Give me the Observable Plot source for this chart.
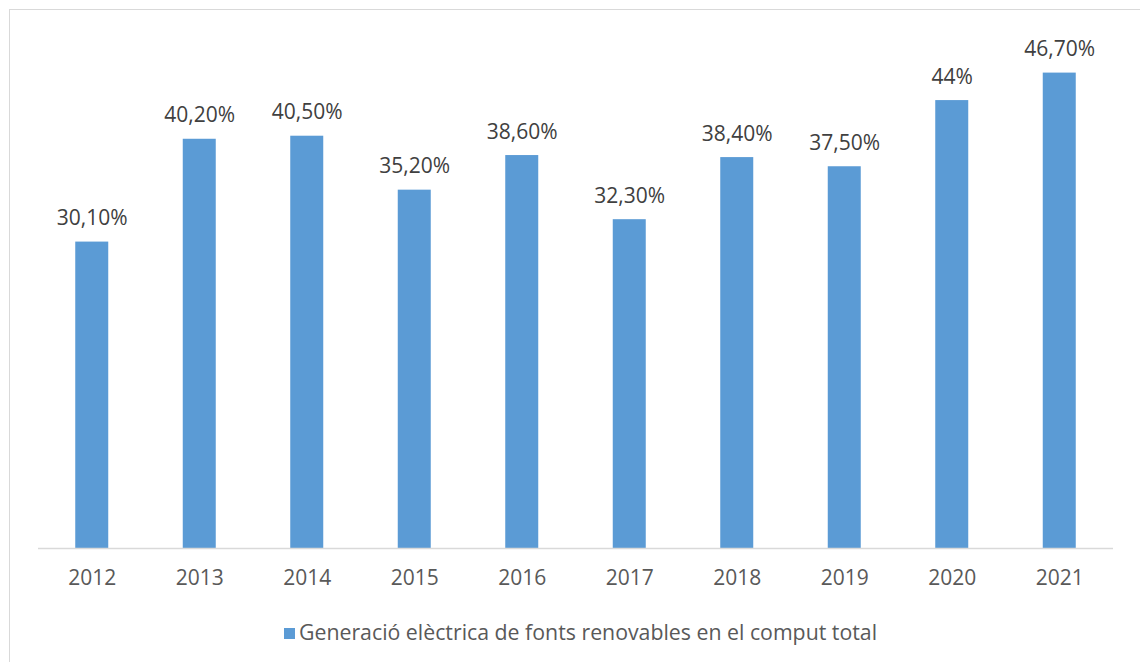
<!DOCTYPE html>
<html>
<head>
<meta charset="utf-8">
<script src="https://cdn.jsdelivr.net/npm/d3@7"></script>
<script src="https://cdn.jsdelivr.net/npm/@observablehq/plot@0.6"></script>
<style>
  html, body { margin: 0; padding: 0; background: #fff; overflow: hidden; }
  #frame { position: absolute; left: 9px; top: 9px; width: 1140px; height: 700px; border: 1.5px solid #D9D9D9; box-sizing: border-box; }
  #chart { position: absolute; left: 0; top: 0; }
  #legend { position: absolute; left: 0; top: 617px; width: 1161px; text-align: center; font-family: "Open Sans", sans-serif; font-size: 21.3px; color: #595959; }
  #legend .sw { display: inline-block; width: 11px; height: 11px; background: #5B9BD5; margin-right: 4px; vertical-align: 1px; }
</style>
</head>
<body>
<div id="frame"></div>
<div id="chart"></div>
<div id="legend"><span class="sw"></span>Generació elèctrica de fonts renovables en el comput total</div>
<script>
const years = ["2012","2013","2014","2015","2016","2017","2018","2019","2020","2021"];
const values = [30.1, 40.2, 40.5, 35.2, 38.6, 32.3, 38.4, 37.5, 44, 46.7];
const labels = ["30,10%","40,20%","40,50%","35,20%","38,60%","32,30%","38,40%","37,50%","44%","46,70%"];

const data = years.map((y, i) => ({year: y, value: values[i], label: labels[i]}));

const chart = Plot.plot({
  width: 1140,
  height: 600,
  marginLeft: 38,
  marginRight: 27,
  marginTop: 39,
  marginBottom: 52,
  style: {fontFamily: "'Open Sans', sans-serif", background: "transparent"},
  x: {domain: years, paddingInner: 0.693, paddingOuter: 0.3465, round: false, label: null},
  y: {domain: [0, 50], axis: null},
  marks: [
    Plot.barY(data, {x: "year", y: "value", fill: "#5B9BD5"}),
    Plot.ruleY([0], {stroke: "#D9D9D9", strokeWidth: 1.5}),
    Plot.axisX({tickSize: 0, tickPadding: 22, fontSize: 21, fill: "#595959", label: null}),
    Plot.text(data, {x: "year", y: "value", text: "label", fontSize: 21, fill: "#404040", lineAnchor: "bottom", dy: -17})
  ]
});
document.getElementById("chart").appendChild(chart);
</script>
</body>
</html>
